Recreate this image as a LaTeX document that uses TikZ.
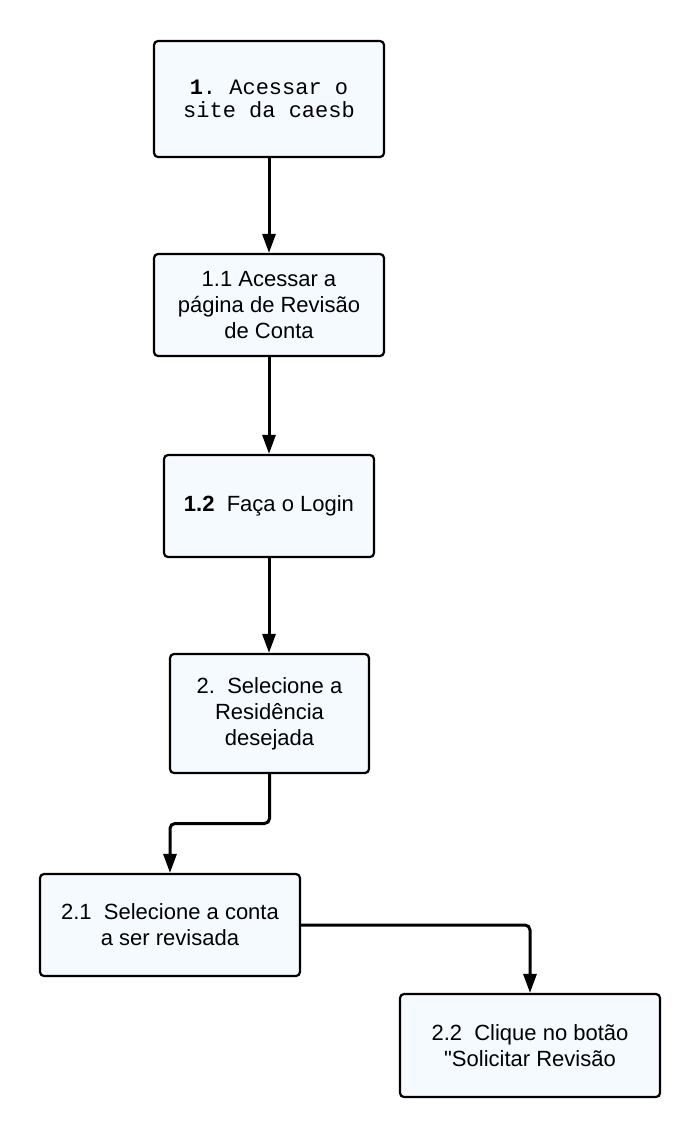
\documentclass[tikz,border=0pt]{standalone}
\usepackage{fontspec}
\setmainfont{Liberation Sans}
\setmonofont{Liberation Mono}
\usetikzlibrary{arrows.meta,calc}
\definecolor{boxfill}{RGB}{245,250,255}

\begin{document}
\begin{tikzpicture}[x=1pt,y=-1pt,
  passo/.style={draw,line width=2.2pt,rounded corners=4pt,fill=boxfill,align=center,inner sep=0pt,
    font=\fontsize{22}{26}\selectfont},
  seta/.style={line width=3pt,rounded corners=5pt,-{Triangle[width=13pt,length=19pt]}}]

\useasboundingbox (0,0) rectangle (700,1138);

% caixas
\node[passo,minimum width=230pt,minimum height=116pt,font=\ttfamily\fontsize{22}{23}\selectfont] (site) at (269,99) {\textbf{1}. Acessar o\\site da caesb};
\node[passo,minimum width=230pt,minimum height=102pt] (pagina) at (269,305) {1.1 Acessar a\\página de Revisão\\de Conta};
\node[passo,minimum width=210pt,minimum height=102pt] (login) at (269,506) {\textbf{1.2}\ \ Faça o Login};
\node[passo,minimum width=199pt,minimum height=119pt] (resid) at (269.5,713.5) {2.\ \ Selecione a\\Residência\\desejada};
\node[passo,minimum width=260pt,minimum height=102pt] (conta) at (170,925) {2.1\ \ Selecione a conta\\a ser revisada};
\node[passo,minimum width=260pt,minimum height=103pt] (botao) at (530,1045.5) {2.2\ \ Clique no botão\\\textquotedbl Solicitar Revisão};

% setas
\draw[seta] (site) -- (pagina);
\draw[seta] (pagina) -- (login);
\draw[seta] (login.south) -- (login.south |- resid.north);
\draw[seta] (resid.south) |- ($(resid.south)!0.5!(conta.north)$) -| (conta.north);
\draw[seta] (conta.east) -| (botao.north);

\end{tikzpicture}
\end{document}
